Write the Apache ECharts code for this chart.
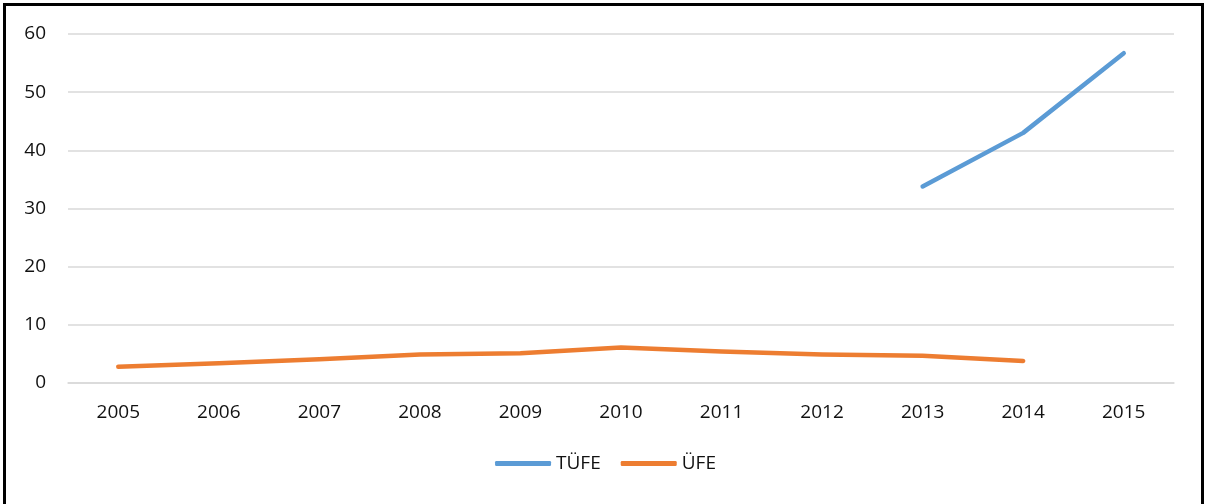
<!DOCTYPE html>
<html>
<head>
<meta charset="utf-8">
<script src="https://cdn.jsdelivr.net/npm/echarts@6/dist/echarts.min.js"></script>
<style>
  html, body { margin: 0; padding: 0; background: #fff; }
  #chart { width: 1211px; height: 504px; }
</style>
</head>
<body>
<div id="chart"></div>
<script>
// yillar ve seriler
const years = ["2005", "2006", "2007", "2008", "2009", "2010", "2011", "2012", "2013", "2014", "2015"];
const tufe = [null, null, null, null, null, null, null, null, 33.8, 43.0, 56.7];
const ufe = [2.8, 3.4, 4.1, 4.9, 5.1, 6.1, 5.4, 4.9, 4.7, 3.8, null];
const yTicks = { min: 0, max: 60, interval: 10 };

const font = "'Open Sans', 'Liberation Sans', sans-serif";

const chart = echarts.init(document.getElementById("chart"));

const option = {
  animation: false,
  textStyle: { fontFamily: font },
  graphic: [
    {
      type: "rect",
      shape: { x: 4.5, y: 4.5, width: 1198, height: 510 },
      style: { fill: "none", stroke: "#000", lineWidth: 3 },
      silent: true,
    },
  ],
  grid: { left: 68, right: 37, top: 34, bottom: 121 },
  legend: {
    bottom: 26,
    left: "center",
    icon: "roundRect",
    itemWidth: 56,
    itemHeight: 5,
    itemGap: 20,
    textStyle: { fontFamily: font, fontSize: 19, color: "#111" },
    data: ["TÜFE", "ÜFE"],
  },
  xAxis: {
    type: "category",
    data: years,
    boundaryGap: true,
    axisLine: { show: true, lineStyle: { color: "#d9d9d9", width: 1.5 } },
    axisTick: { show: false },
    axisLabel: { fontFamily: font, fontSize: 19, color: "#111", margin: 20 },
  },
  yAxis: {
    type: "value",
    min: yTicks.min,
    max: yTicks.max,
    interval: yTicks.interval,
    axisLine: { show: false },
    axisTick: { show: false },
    axisLabel: { fontFamily: font, fontSize: 19, color: "#111", margin: 22 },
    splitLine: { lineStyle: { color: "#d9d9d9", width: 1.5 } },
  },
  series: [
    {
      name: "TÜFE",
      type: "line",
      data: tufe,
      symbol: "none",
      connectNulls: false,
      itemStyle: { color: "#5b9bd5" },
      lineStyle: { color: "#5b9bd5", width: 4.5, cap: "round", join: "round" },
    },
    {
      name: "ÜFE",
      type: "line",
      data: ufe,
      symbol: "none",
      connectNulls: false,
      itemStyle: { color: "#ed7d31" },
      lineStyle: { color: "#ed7d31", width: 4.5, cap: "round", join: "round" },
    },
  ],
};

chart.setOption(option);
</script>
</body>
</html>
